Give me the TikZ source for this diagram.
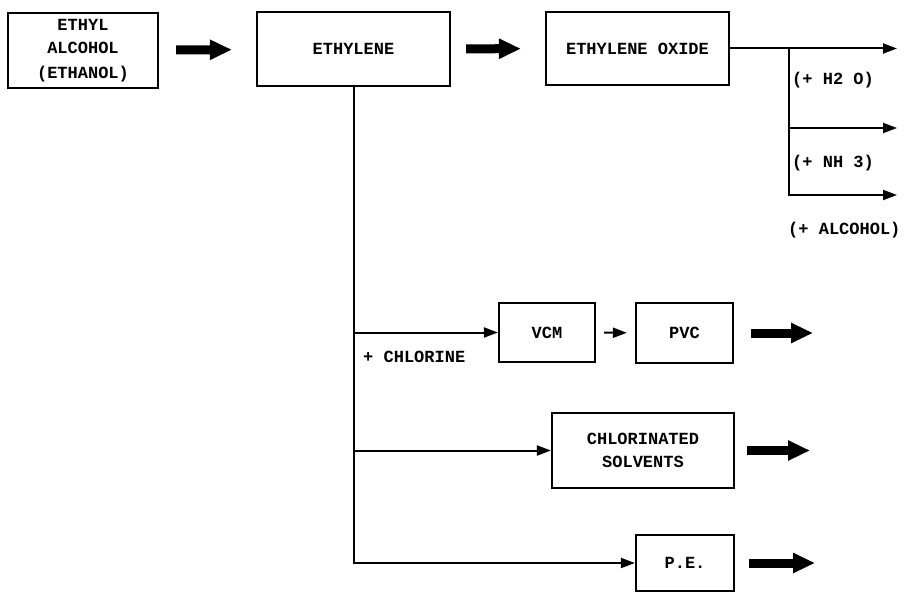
\documentclass[tikz,border=0pt]{standalone}
\usepackage{fontspec}
\setmonofont{Liberation Mono}
\usetikzlibrary{arrows.meta}

\begin{document}
\begin{tikzpicture}[x=1pt, y=-1pt,
        box/.style={rectangle, draw, line width=2.2pt, align=center, inner sep=0pt, font=\ttfamily\bfseries\fontsize{17}{23}\selectfont},
        lbl/.style={anchor=west, inner sep=0pt, font=\ttfamily\bfseries\fontsize{17}{23}\selectfont},
        feed/.style={line width=2pt, -{Triangle[length=14pt, width=10pt]}},
        bigarrow/.style={line width=9pt, -{Triangle[length=22pt, width=19pt]}}]
        \useasboundingbox (0,0) rectangle (908,594);

        % Draw nodes
        \node[box, minimum width=150pt, minimum height=75pt] (alcohol) at (83,50.5) {ETHYL\\ALCOHOL\\[2pt](ETHANOL)};
        \node[box, minimum width=193pt, minimum height=74pt] (ethylene) at (353.5,49) {ETHYLENE};
        \node[box, minimum width=183pt, minimum height=73pt] (oxide) at (637.5,48.5) {ETHYLENE OXIDE};
        \node[box, minimum width=96pt, minimum height=59pt] (vcm) at (547,332.5) {VCM};
        \node[box, minimum width=97pt, minimum height=60pt] (pvc) at (684.5,333) {PVC};
        \node[box, minimum width=182pt, minimum height=75pt] (solvents) at (643,450.5) {CHLORINATED\\SOLVENTS};
        \node[box, minimum width=98pt, minimum height=56pt] (pe) at (685,563) {P.E.};

        % Draw end points
        \coordinate (split) at (789,48.5);
        \coordinate (water) at (897,48.5);
        \coordinate (ammonia) at (897,128);
        \coordinate (alcout) at (897,195);
        \coordinate (pvcout) at (813,333);
        \coordinate (solvout) at (810,450.5);
        \coordinate (peout) at (815,563);

        % Draw connections
        \draw[bigarrow, shorten <=17pt, shorten >=24pt] (alcohol) -- (ethylene);
        \draw[bigarrow, shorten <=15pt, shorten >=24pt] (ethylene) -- (oxide);
        \draw[feed] (oxide) -- (water);
        \draw[feed] (split) |- (alcout);
        \draw[feed] (split |- ammonia) -- (ammonia);
        \draw[feed] (ethylene) |- (vcm);
        \draw[feed] (ethylene) |- (solvents);
        \draw[feed] (ethylene) |- (pe);
        \draw[feed, shorten <=8pt, shorten >=8pt] (vcm) -- (pvc);
        \draw[bigarrow, shorten <=17pt] (pvc) -- (pvcout);
        \draw[bigarrow, shorten <=12pt] (solvents) -- (solvout);
        \draw[bigarrow, shorten <=14pt] (pe) -- (peout);

        % Draw labels
        \node[lbl] (h2o) at (792,80) {(+ H2 O)};
        \node[lbl] (nh3) at (792,163) {(+ NH 3)};
        \node[lbl] (alc) at (788,230) {(+ ALCOHOL)};
        \node[lbl] (chlorine) at (363,357) {+ CHLORINE};
    \end{tikzpicture}
\end{document}
